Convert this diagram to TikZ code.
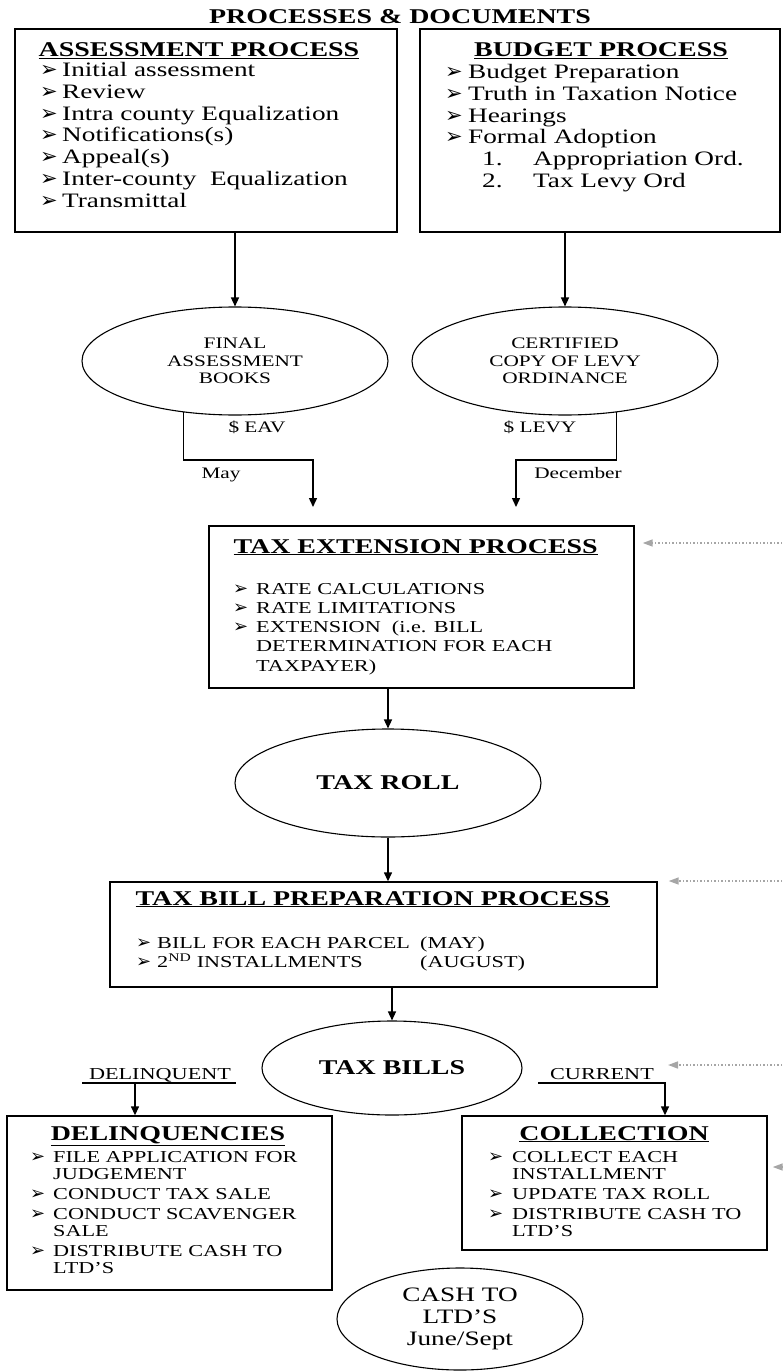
\documentclass[tikz,border=0pt]{standalone}
\usepackage{fontspec}
\setmainfont[FakeStretch=1.33]{Liberation Serif}
\newfontfamily\dingfont{DejaVu Sans}
\usetikzlibrary{shapes,arrows.meta,positioning,calc}

\newcommand\hdfont{\bfseries\fontsize{21}{24}\selectfont}
\newcommand\listfont{\fontsize{20.5}{21.8}\selectfont}
\newcommand\capsfont{\fontsize{16.7}{19.2}\selectfont}
\newcommand\tightfont{\fontsize{16.7}{17}\selectfont}
\newcommand\ovfont{\fontsize{16}{17.6}\selectfont}
\newcommand\bul{{\dingfont\fontsize{21}{14}\selectfont ➢}}
\newcommand\sbul{{\dingfont\fontsize{18}{14}\selectfont ➢}}

\begin{document}
\begin{tikzpicture}[x=1pt, y=-1pt,
    procbox/.style={rectangle, draw, line width=1.4pt, inner sep=0pt},
    oval/.style={ellipse, draw, line width=1.1pt, inner sep=0pt, align=center},
    list/.style={anchor=north west, inner sep=0pt, align=left},
    flow/.style={-{Triangle[length=9pt, width=8pt]}, line width=1.4pt},
    feed/.style={-{Triangle[length=10pt, width=7pt]}, gray!70, dotted, line width=1.5pt}
]
\useasboundingbox (0,0) rectangle (782,1372);

% Title
\node[font=\hdfont, anchor=base] (title) at (400,24) {PROCESSES \& DOCUMENTS};

% Processes
\node[procbox, minimum width=382pt, minimum height=203pt] (assess) at (206,130.5) {};
\node[font=\hdfont, anchor=base] (assesshd) at (199,57) {\underline{ASSESSMENT PROCESS}};
\node[list, font=\listfont] (assesslist) at (40,62) {%
  \makebox[22pt][l]{\bul}Initial assessment\\
  \makebox[22pt][l]{\bul}Review\\
  \makebox[22pt][l]{\bul}Intra county Equalization\\
  \makebox[22pt][l]{\bul}Notifications(s)\\
  \makebox[22pt][l]{\bul}Appeal(s)\\
  \makebox[22pt][l]{\bul}Inter-county \ Equalization\\
  \makebox[22pt][l]{\bul}Transmittal};

\node[procbox, minimum width=360pt, minimum height=203pt] (budget) at (600,130.5) {};
\node[font=\hdfont, anchor=base] (budgethd) at (601,57) {\underline{BUDGET PROCESS}};
\node[list, font=\listfont] (budgetlist) at (445,64) {%
  \makebox[23pt][l]{\bul}Budget Preparation\\
  \makebox[23pt][l]{\bul}Truth in Taxation Notice\\
  \makebox[23pt][l]{\bul}Hearings\\
  \makebox[23pt][l]{\bul}Formal Adoption\\
  \hspace*{37pt}\makebox[51pt][l]{1.}Appropriation Ord.\\
  \hspace*{37pt}\makebox[51pt][l]{2.}Tax Levy Ord};

% Documents
\node[oval, minimum width=306pt, minimum height=108pt, font=\ovfont] (fab) at (235,361) {FINAL\\ASSESSMENT\\BOOKS};
\node[oval, minimum width=306pt, minimum height=108pt, font=\ovfont] (cert) at (565,361) {CERTIFIED\\COPY OF LEVY\\ORDINANCE};

\draw[flow] (assess.south -| fab.north) -- (fab.north);
\draw[flow] (budget.south -| cert.north) -- (cert.north);

\coordinate (maybend) at (313,460);
\coordinate (mayend) at (313,507);
\coordinate (decbend) at (516,460);
\coordinate (decend) at (516,507);
\draw[flow] (fab.225) |- (maybend) -- (mayend);
\draw[flow] (cert.-45) |- (decbend) -- (decend);
\node[font=\ovfont, anchor=base] (eav) at (257,432) {\$ EAV};
\node[font=\ovfont, anchor=base] (may) at (221,478) {May};
\node[font=\ovfont, anchor=base] (levy) at (540,432) {\$ LEVY};
\node[font=\ovfont, anchor=base] (dec) at (578,478) {December};

% Extension
\node[procbox, minimum width=425pt, minimum height=162pt] (ext) at (421.5,607) {};
\node[font=\hdfont, anchor=base west] (exthd) at (230,553) {\underline{TAX EXTENSION PROCESS}};
\node[list, font=\capsfont] (extlist) at (233,583) {%
  \makebox[23pt][l]{\sbul}RATE CALCULATIONS\\
  \makebox[23pt][l]{\sbul}RATE LIMITATIONS\\
  \makebox[23pt][l]{\sbul}EXTENSION \ (i.e. BILL\\
  \hspace*{23pt}DETERMINATION FOR EACH\\
  \hspace*{23pt}TAXPAYER)};
\coordinate (fbext) at (782,543);
\draw[feed] (fbext) -- ($(ext.east |- fbext)+(8,0)$);

% Tax roll
\node[oval, minimum width=306pt, minimum height=108pt, font=\hdfont] (roll) at (388,783) {TAX ROLL};
\draw[flow] (ext.south -| roll.north) -- (roll.north);

% Bill preparation
\node[procbox, minimum width=547pt, minimum height=105pt] (bill) at (383.5,934.5) {};
\draw[flow] (roll.south) -- (roll.south |- bill.north);
\node[font=\hdfont, anchor=base west] (billhd) at (132,905) {\underline{TAX BILL PREPARATION PROCESS}};
\node[list, font=\capsfont] (billlist) at (136,937) {%
  \makebox[21pt][l]{\sbul}\makebox[263pt][l]{BILL FOR EACH PARCEL}(MAY)\\
  \makebox[21pt][l]{\sbul}\makebox[263pt][l]{2\textsuperscript{ND} INSTALLMENTS}(AUGUST)};
\coordinate (fbbill) at (782,881);
\draw[feed] (fbbill) -- ($(bill.east |- fbbill)+(11,0)$);

% Tax bills
\node[oval, minimum width=260pt, minimum height=94pt, font=\hdfont] (bills) at (392,1068) {TAX BILLS};
\draw[flow] (bill.south -| bills.north) -- (bills.north);

% Delinquencies
\node[procbox, minimum width=325pt, minimum height=174pt] (delinq) at (169.5,1203) {};
\node[font=\hdfont, anchor=base] (delinqhd) at (168,1140) {\underline{DELINQUENCIES}};
\node[list, font=\tightfont] (delinqlist) at (30,1151) {%
  \makebox[23pt][l]{\sbul}FILE APPLICATION FOR\\
  \hspace*{23pt}JUDGEMENT\\[3pt]
  \makebox[23pt][l]{\sbul}CONDUCT TAX SALE\\[3pt]
  \makebox[23pt][l]{\sbul}CONDUCT SCAVENGER\\
  \hspace*{23pt}SALE\\[3pt]
  \makebox[23pt][l]{\sbul}DISTRIBUTE CASH TO\\
  \hspace*{23pt}LTD'S};
\node[font=\capsfont, anchor=base] (delqlbl) at (160,1079) {DELINQUENT};
\coordinate (delqa) at (82,1083);
\coordinate (delqb) at (236,1083);
\coordinate (delqsplit) at (135,1083);
\draw[line width=1.2pt] (delqa) -- (delqb);
\draw[flow] (delqsplit) -- (delqsplit |- delinq.north);

% Collection
\node[procbox, minimum width=305pt, minimum height=134pt] (coll) at (614.5,1183) {};
\node[font=\hdfont, anchor=base] (collhd) at (614,1140) {\underline{COLLECTION}};
\node[list, font=\tightfont] (colllist) at (488,1151) {%
  \makebox[24pt][l]{\sbul}COLLECT EACH\\
  \hspace*{24pt}INSTALLMENT\\[3pt]
  \makebox[24pt][l]{\sbul}UPDATE TAX ROLL\\[3pt]
  \makebox[24pt][l]{\sbul}DISTRIBUTE CASH TO\\
  \hspace*{24pt}LTD'S};
\node[font=\capsfont, anchor=base] (curlbl) at (602,1079) {CURRENT};
\coordinate (cura) at (538,1083);
\coordinate (curb) at (665,1083);
\draw[flow] (cura) -- (curb) -- (curb |- coll.north);
\coordinate (fbcur) at (782,1065);
\draw[feed] (fbcur) -- ($(curb |- fbcur)+(3,0)$);
\coordinate (fbcoll) at (782,1167);
\draw[feed, solid] (fbcoll) -- ($(coll.east |- fbcoll)+(5,0)$);

% Cash out
\node[oval, minimum width=246pt, minimum height=102pt, font=\listfont] (cash) at (460,1319) {CASH TO\\LTD'S\\June/Sept};

\end{tikzpicture}
\end{document}
